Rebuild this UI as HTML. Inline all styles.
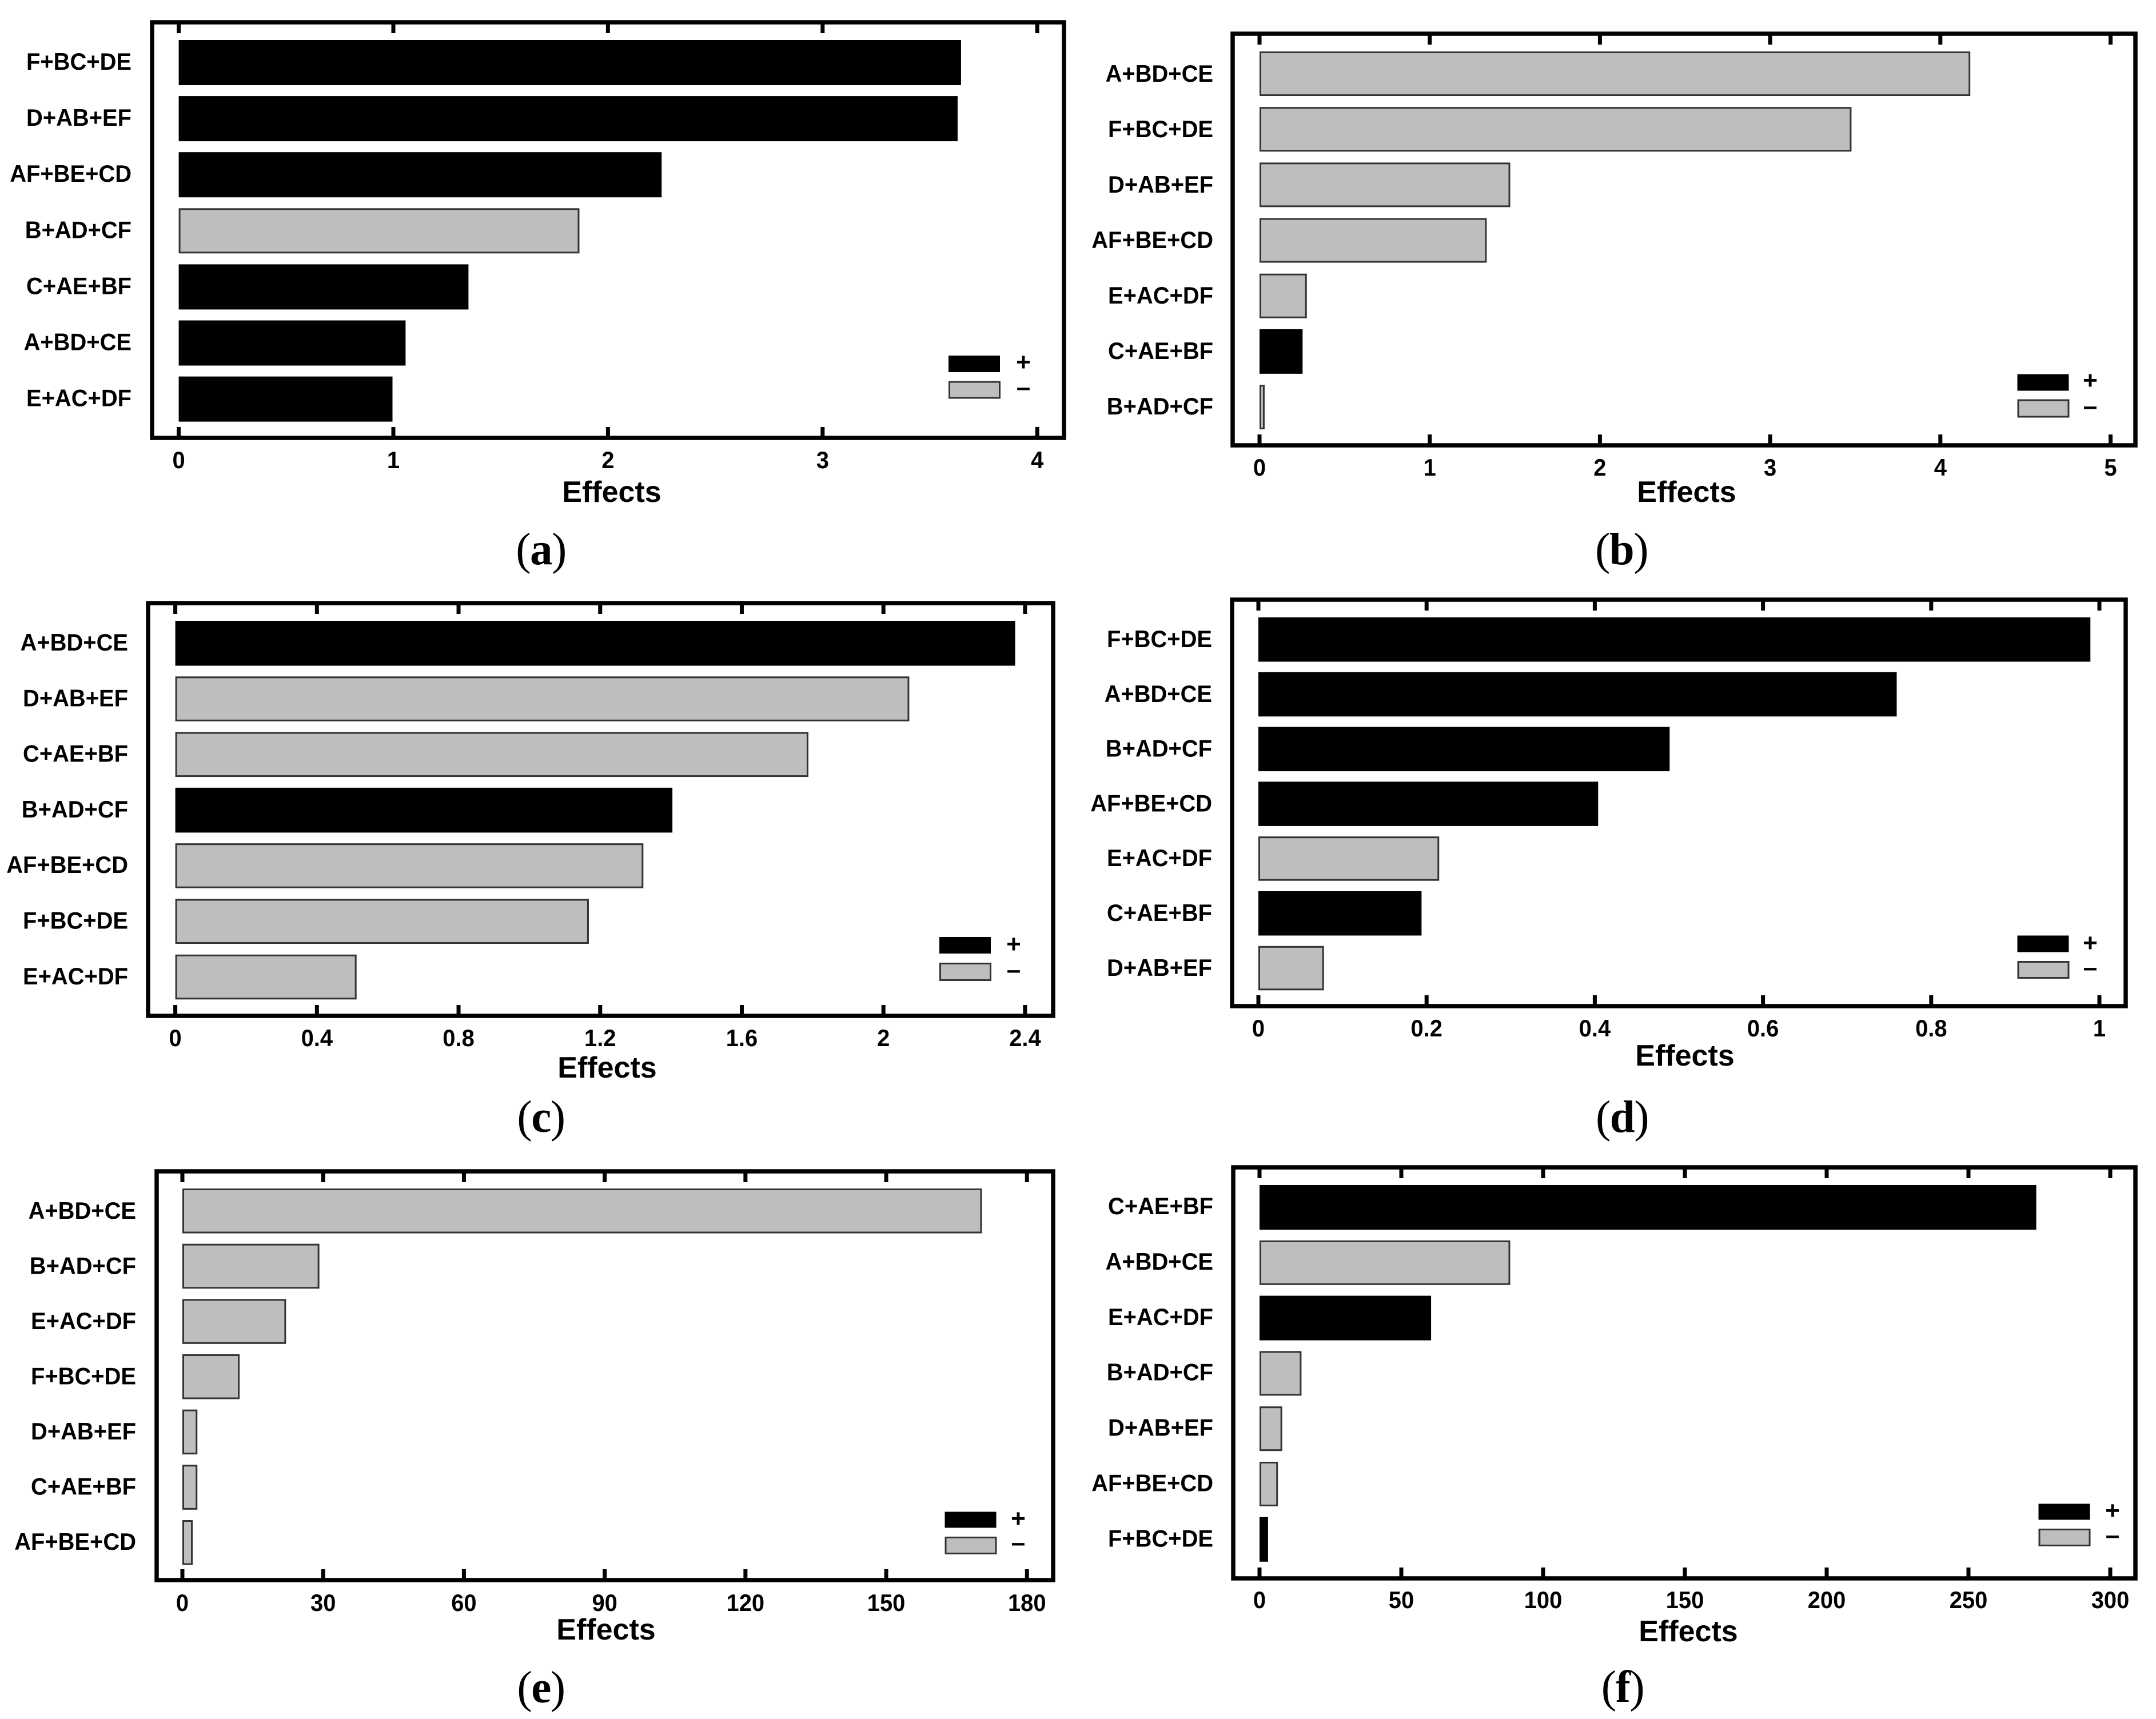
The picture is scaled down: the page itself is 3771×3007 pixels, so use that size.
<!DOCTYPE html>
<html lang="en">
<head>
<meta charset="utf-8">
<title>Effects Pareto charts</title>
<style>
html,body{margin:0;padding:0;background:#fff;}
svg{display:block;}
text{font-family:"Liberation Sans",Arial,sans-serif;font-weight:700;fill:#000;}
.title{font-size:52px;text-anchor:middle;}
.cap{font-family:"Liberation Serif","Times New Roman",serif;font-weight:400;font-size:79px;text-anchor:middle;letter-spacing:-1.5px;}
.cap tspan{font-weight:700;}
.lg{font-size:44px;text-anchor:middle;}
.frame{fill:none;stroke:#000;stroke-width:7.5;}
.pos{fill:#000;stroke:#000;stroke-width:1;}
.neg{fill:#bebebe;stroke:#333;stroke-width:3;}
</style>
</head>
<body>
<svg id="figure" xmlns="http://www.w3.org/2000/svg" width="3771" height="3007" viewBox="0 0 3771 3007">
<rect width="3771" height="3007" fill="#fff"/>

<g id="panel-a">
<rect class="frame" x="266" y="39" width="1595" height="727"/>
<text class="title" x="1070" y="878">Effects</text>
<text class="cap" x="946" y="987">(<tspan>a</tspan>)</text>
<rect class="pos" x="1659.5" y="622.5" width="89" height="28"/>
<rect class="neg" x="1660.5" y="668" width="88" height="28"/>
<text class="lg" x="1790" y="648">+</text>
<text class="lg" x="1790" y="692">–</text>
</g>

<g id="panel-b">
<rect class="frame" x="2156" y="59" width="1579" height="720"/>
<text class="title" x="2950" y="878">Effects</text>
<text class="cap" x="2836" y="987">(<tspan>b</tspan>)</text>
<rect class="pos" x="3529" y="655" width="89" height="28"/>
<rect class="neg" x="3530" y="700" width="88" height="29"/>
<text class="lg" x="3656" y="680">+</text>
<text class="lg" x="3656" y="725">–</text>
</g>

<g id="panel-c">
<rect class="frame" x="259" y="1055" width="1583" height="722"/>
<text class="title" x="1062" y="1885">Effects</text>
<text class="cap" x="946" y="1980">(<tspan>c</tspan>)</text>
<rect class="pos" x="1643.5" y="1639.5" width="89" height="28"/>
<rect class="neg" x="1644.5" y="1685.5" width="88" height="29"/>
<text class="lg" x="1773" y="1666">+</text>
<text class="lg" x="1773" y="1711">–</text>
</g>

<g id="panel-d">
<rect class="frame" x="2155" y="1049" width="1563" height="711"/>
<text class="title" x="2947" y="1864">Effects</text>
<text class="cap" x="2837" y="1980">(<tspan>d</tspan>)</text>
<rect class="pos" x="3529" y="1637" width="89" height="28"/>
<rect class="neg" x="3530" y="1682.5" width="88" height="28"/>
<text class="lg" x="3656" y="1664">+</text>
<text class="lg" x="3656" y="1707">–</text>
</g>

<g id="panel-e">
<rect class="frame" x="274" y="2049" width="1568" height="715"/>
<text class="title" x="1060" y="2868">Effects</text>
<text class="cap" x="946" y="2978">(<tspan>e</tspan>)</text>
<rect class="pos" x="1653" y="2645" width="89" height="27"/>
<rect class="neg" x="1654" y="2689.5" width="88" height="28"/>
<text class="lg" x="1781" y="2671">+</text>
<text class="lg" x="1781" y="2713">–</text>
</g>

<g id="panel-f">
<rect class="frame" x="2157" y="2042" width="1578" height="719"/>
<text class="title" x="2953" y="2871">Effects</text>
<text class="cap" x="2838" y="2977">(<tspan>f</tspan>)</text>
<rect class="pos" x="3566" y="2631" width="89" height="27"/>
<rect class="neg" x="3567" y="2675.5" width="88" height="28"/>
<text class="lg" x="3695" y="2657">+</text>
<text class="lg" x="3695" y="2700">–</text>
</g>
</svg>

<script>
var categoriesA = ["F+BC+DE","D+AB+EF","AF+BE+CD","B+AD+CF","C+AE+BF","A+BD+CE","E+AC+DF"];
var valuesA = [3.645,3.629,2.250,1.867,1.350,1.057,0.996];
var signsA = ["+","+","+","-","+","+","+"];
var ticksA = [0,1,2,3,4];

var categoriesB = ["A+BD+CE","F+BC+DE","D+AB+EF","AF+BE+CD","E+AC+DF","C+AE+BF","B+AD+CF"];
var valuesB = [4.176,3.478,1.473,1.335,0.278,0.253,0.030];
var signsB = ["-","-","-","-","-","+","-"];
var ticksB = [0,1,2,3,4,5];

var categoriesC = ["A+BD+CE","D+AB+EF","C+AE+BF","B+AD+CF","AF+BE+CD","F+BC+DE","E+AC+DF"];
var valuesC = [2.372,2.073,1.788,1.404,1.322,1.168,0.512];
var signsC = ["+","-","-","+","-","-","-"];
var ticksC = [0,0.4,0.8,1.2,1.6,2,2.4];

var categoriesD = ["F+BC+DE","A+BD+CE","B+AD+CF","AF+BE+CD","E+AC+DF","C+AE+BF","D+AB+EF"];
var valuesD = [0.9893,0.759,0.489,0.404,0.215,0.194,0.078];
var signsD = ["+","+","+","+","-","+","-"];
var ticksD = [0,0.2,0.4,0.6,0.8,1];

var categoriesE = ["A+BD+CE","B+AD+CF","E+AC+DF","F+BC+DE","D+AB+EF","C+AE+BF","AF+BE+CD"];
var valuesE = [170.4,29.2,22.1,12.2,3.2,3.2,2.2];
var signsE = ["-","-","-","-","-","-","-"];
var ticksE = [0,30,60,90,120,150,180];

var categoriesF = ["C+AE+BF","A+BD+CE","E+AC+DF","B+AD+CF","D+AB+EF","AF+BE+CD","F+BC+DE"];
var valuesF = [273.9,88.4,60.5,14.8,8.0,6.5,3.0];
var signsF = ["+","-","+","-","-","-","+"];
var ticksF = [0,50,100,150,200,250,300];

var NS = "http://www.w3.org/2000/svg";

function makeXAxis(originPx, pxPerUnit) {
  return function (v) { return originPx + v * pxPerUnit; };
}

function makeBandAxis(firstPx, stepPx) {
  return function (i) { return firstPx + i * stepPx; };
}

function placeText(el, px, py) {
  el.setAttribute("transform", "translate(" + px + "," + py + ") scale(0.95,1)");
  el.setAttribute("font-size", "42");
}

function drawPanel(id, categories, values, signs, ticks, layout) {
  var group = document.getElementById("panel-" + id);
  var x = makeXAxis(layout.x0, layout.ppu);
  var barY = makeBandAxis(layout.barTop, layout.step);
  var labelY = makeBandAxis(layout.labelTop, layout.labelStep);
  var tickLen = 19;

  categories.forEach(function (name, i) {
    var positive = signs[i] === "+";
    var inset = positive ? 0.5 : 1.5;
    var bar = document.createElementNS(NS, "rect");
    bar.setAttribute("class", positive ? "pos" : "neg");
    bar.setAttribute("x", x(0) + inset);
    bar.setAttribute("y", barY(i) + inset);
    bar.setAttribute("width", Math.max(x(values[i]) - x(0) - 2 * inset, 1));
    bar.setAttribute("height", layout.barH - 2 * inset);
    
    
    group.appendChild(bar);

    var label = document.createElementNS(NS, "text");
    placeText(label, layout.labelRight, labelY(i) + 15);
    label.setAttribute("text-anchor", "end");
    label.textContent = name;
    
    
    group.appendChild(label);
  });

  ticks.forEach(function (t) {
    [[layout.top, layout.top + tickLen], [layout.bottom - tickLen, layout.bottom]].forEach(function (span) {
      var mark = document.createElementNS(NS, "line");
      mark.setAttribute("x1", x(t));
      mark.setAttribute("x2", x(t));
      mark.setAttribute("y1", span[0]);
      mark.setAttribute("y2", span[1]);
      mark.setAttribute("stroke", "#000");
      mark.setAttribute("stroke-width", "7");
      
      
      group.appendChild(mark);
    });
    var tickText = document.createElementNS(NS, "text");
    placeText(tickText, x(t), layout.tickLabelY + 15);
    tickText.setAttribute("text-anchor", "middle");
    tickText.textContent = String(t);
    
    
    group.appendChild(tickText);
  });
}

drawPanel("a", categoriesA, valuesA, signsA, ticksA,
  {x0:312.6, ppu:375.4, barTop:70, step:98.1, barH:79, labelRight:230, labelTop:107, labelStep:98.1, tickLabelY:804, top:39, bottom:766});
drawPanel("b", categoriesB, valuesB, signsB, ticksB,
  {x0:2203, ppu:297.7, barTop:90, step:97.17, barH:78, labelRight:2122, labelTop:128, labelStep:97, tickLabelY:817, top:59, bottom:779});
drawPanel("c", categoriesC, valuesC, signsC, ticksC,
  {x0:306.6, ppu:619.3, barTop:1086, step:97.3, barH:78.5, labelRight:224, labelTop:1123, labelStep:97.3, tickLabelY:1815, top:1055, bottom:1777});
drawPanel("d", categoriesD, valuesD, signsD, ticksD,
  {x0:2201, ppu:1471, barTop:1080, step:95.8, barH:77.5, labelRight:2120, labelTop:1117, labelStep:95.8, tickLabelY:1798, top:1049, bottom:1760});
drawPanel("e", categoriesE, valuesE, signsE, ticksE,
  {x0:319, ppu:8.207, barTop:2079, step:96.67, barH:78.5, labelRight:238, labelTop:2117, labelStep:96.5, tickLabelY:2803, top:2049, bottom:2764});
drawPanel("f", categoriesF, valuesF, signsF, ticksF,
  {x0:2203, ppu:4.96, barTop:2073, step:96.8, barH:78, labelRight:2122, labelTop:2109, labelStep:96.9, tickLabelY:2798, top:2042, bottom:2761});
</script>
</body>
</html>
